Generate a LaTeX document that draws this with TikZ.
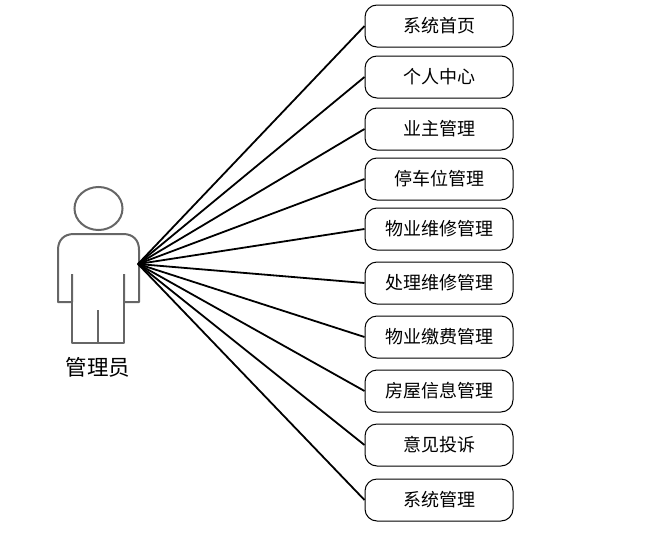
\documentclass[tikz,border=0pt]{standalone}
\usepackage{fontspec}
\usepackage{xcolor}
\setmainfont{Noto Sans CJK SC}
\usetikzlibrary{positioning}
\tikzset{
  usecase/.style={draw, line width=1pt, rounded corners=12pt, minimum width=148pt, minimum height=42pt, inner sep=0pt, font=\fontsize{18pt}{20pt}\selectfont},
  actorline/.style={draw=black!60, line width=2pt},
  link/.style={draw=black, line width=1.8pt}
}
\begin{document}
\begin{tikzpicture}[x=1pt, y=-1pt]
  \useasboundingbox (0,0) rectangle (666,538);

  % Actor
  \draw[actorline] (98.5,208.5) ellipse [x radius=24, y radius=21.5];
  \draw[actorline, line join=round] (72,274) -- (72,302) -- (58,302) -- (58,250)
    .. controls (58,240) and (64,234) .. (74,234) -- (123,234)
    .. controls (133,234) and (139,240) .. (139,250) -- (139,302) -- (124,302) -- (124,274);
  \draw[actorline, line join=round] (72,302) -- (72,343) -- (124,343) -- (124,302);
  \draw[actorline] (98,343) -- (98,310);
  \node[font=\fontsize{21.5pt}{23pt}\selectfont] (admin) at (98,367) {管理员};
  \coordinate (hand) at (138,264);

  % Use cases: centre y / name
  \foreach \y/\nm/\lbl in {26/home/系统首页, 77/center/个人中心, 129/owner/业主管理, 179/parking/停车位管理,
      229/repair/物业维修管理, 283/handle/处理维修管理, 337/fee/物业缴费管理, 391/house/房屋信息管理,
      445/opinion/意见投诉, 500/system/系统管理}
  {
    \node[usecase] (\nm) at (439,\y) {\lbl};
    \draw[link] (hand) -- (\nm.west);
  }
\end{tikzpicture}
\end{document}
